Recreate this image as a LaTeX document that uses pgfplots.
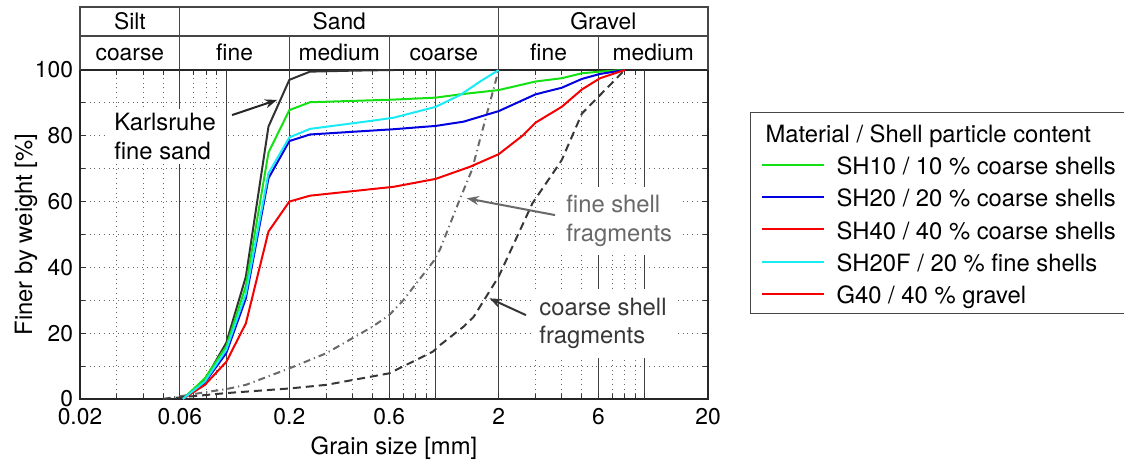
\documentclass[border=0pt]{standalone}
\usepackage{fontspec}
\setmainfont{TeX Gyre Heros}
\usepackage{pgfplots}
\pgfplotsset{compat=1.18}
\usetikzlibrary{arrows.meta}

\definecolor{cGreen}{RGB}{20,225,20}
\definecolor{cBlue}{RGB}{0,0,225}
\definecolor{cRed}{RGB}{245,0,0}
\definecolor{cCyan}{RGB}{25,235,245}
\definecolor{cSand}{RGB}{50,50,50}
\definecolor{cFine}{RGB}{105,105,105}
\definecolor{cCoarse}{RGB}{55,55,55}
\definecolor{cFrame}{RGB}{70,70,70}

\newcommand\tickfont{\fontsize{11.4bp}{13bp}\selectfont}
\newcommand\labfont{\fontsize{11.9bp}{14.15bp}\selectfont}

\begin{document}
\begin{tikzpicture}
\useasboundingbox (-40bp,-31.5bp) rectangle (522bp,199.5bp);
\begin{axis}[
  at={(0,0)}, anchor=south west,
  width=314bp, height=164.5bp, scale only axis,
  xmode=log, xmin=0.02, xmax=20, ymin=0, ymax=100,
  clip=false,
  axis line style={black!85, line width=0.6bp},
  xtick={0.02,0.06,0.2,0.6,2,6,20},
  xticklabels={0.02,0.06,0.2,0.6,2,6,20},
  extra x ticks={0.1,1,10}, extra x tick labels={},
  extra x tick style={grid=major},
  minor xtick={0.03,0.04,0.05,0.07,0.08,0.09,0.3,0.4,0.5,0.7,0.8,0.9,3,4,5,7,8,9},
  ytick={0,20,40,60,80,100}, minor ytick={10,30,50,70,90},
  grid=both,
  major x grid style={black!75, line width=0.5bp},
  minor x grid style={black!60, dotted, line width=0.5bp},
  major y grid style={black!60, dotted, line width=0.5bp},
  minor y grid style={black!60, dotted, line width=0.5bp},
  tick align=inside, major tick length=3bp, minor tick length=2.5bp,
  tick style={black!80, line width=0.5bp},
  /pgf/number format/assume math mode=true,
  tick label style={font=\tickfont},
  xticklabel style={yshift=-1bp},
  label style={font=\labfont},
  xlabel={Grain size [mm]}, ylabel={Finer by weight [\%]},
  xlabel style={at={(axis description cs:0.5,0)}, anchor=base, yshift=-27.5bp},
  ylabel style={at={(axis description cs:-0.0764,0.5)}, anchor=base},
  legend image code/.code={\draw[#1] (0bp,0bp) -- (31bp,0bp);},
  legend cell align=left,
  legend style={
    at={(axis description cs:1.0669,0.8723)}, anchor=north west,
    draw=cFrame, line width=0.6bp, fill=white,
    font=\labfont,
    inner xsep=5bp, inner ysep=4.85bp,
    row sep=6.16bp, column sep=6bp,
    nodes={inner sep=0pt, text height=10bp, text depth=0pt},
  },
]

% legend heading
\addlegendimage{empty legend}
\addlegendentry{\hspace*{-35.5bp}Material / Shell particle content}

% Karlsruhe fine sand
\addplot[cSand, line width=1bp, forget plot] coordinates {
  (0.062,0) (0.079,5.8) (0.1,17.1) (0.124,37.2) (0.159,82.8)
  (0.2,97) (0.251,99.5) (0.4,99.8) (0.63,100)};

% fine shell fragments
\addplot[cFine, line width=1bp, dash pattern=on 3.5bp off 2bp on 0.6bp off 2bp, forget plot] coordinates {
  (0.05,0) (0.08,2.1) (0.1,3) (0.124,4.3) (0.2,9.3) (0.3,13.9) (0.5,22)
  (0.6,25.5) (0.7,30) (0.98,42) (1.05,45.5) (1.31,61) (1.49,69.6)
  (1.63,79) (2,100)};

% coarse shell fragments
\addplot[cCoarse, line width=1bp, dash pattern=on 4bp off 2.5bp, forget plot] coordinates {
  (0.05,0) (0.1,1.8) (0.2,3.2) (0.3,4.3) (0.6,7.8) (0.97,14.4) (1.05,16.4)
  (1.36,22) (1.52,25) (2.0,37.2) (2.9,59.5) (3.72,69.6) (4.0,72.6)
  (5.0,86.8) (8.0,100)};

% SH10
\addplot[cGreen, line width=1bp] coordinates {
  (0.062,0) (0.079,6.3) (0.1,16) (0.124,34.4) (0.159,74.9) (0.2,87.8)
  (0.251,90.2) (0.63,91) (1.0,91.6) (1.31,92.6) (2.0,93.9) (3.0,96.5)
  (4.0,97.5) (5.0,99) (6.1,99.5) (8.0,100)};
\addlegendentry{SH10 / 10 \% coarse shells}

% SH20
\addplot[cBlue, line width=1bp] coordinates {
  (0.062,0) (0.079,5) (0.1,14) (0.124,30.6) (0.159,67.1) (0.2,78.4)
  (0.251,80.4) (0.63,82) (1.0,83) (1.36,84.3) (2.0,87.5) (3.0,92.6)
  (4.0,94.6) (5.0,97.3) (6.1,98.8) (8.0,100)};
\addlegendentry{SH20 / 20 \% coarse shells}

% SH40
\addplot[cRed, line width=1bp] coordinates {
  (0.062,0) (0.079,4.3) (0.1,11.3) (0.124,23) (0.159,50.9) (0.2,60)
  (0.251,61.8) (0.63,64.5) (1.0,66.9) (1.46,70.6) (2.0,74.4) (2.62,80.2)
  (3.0,84) (4.0,88.8) (5.0,94.1) (6.1,97.5) (8.0,100)};
\addlegendentry{SH40 / 40 \% coarse shells}

% SH20F
\addplot[cCyan, line width=1bp] coordinates {
  (0.062,0) (0.079,5.3) (0.1,15) (0.124,32) (0.159,68.6) (0.2,79.5)
  (0.251,82.1) (0.5,84.6) (0.63,85.5) (1.0,88.8) (1.31,92.4) (1.63,96.5)
  (2.0,100)};
\addlegendentry{SH20F / 20 \% fine shells}

\addlegendimage{cRed, line width=1bp}
\addlegendentry{G40 / 40 \% gravel}

% grain size classification header
\draw[cFrame, line width=0.6bp] (axis cs:0.02,100) -- (axis cs:0.02,119.15)
  -- (axis cs:20,119.15) -- (axis cs:20,100);
\draw[cFrame, line width=0.6bp] (axis cs:0.02,110.33) -- (axis cs:20,110.33);
\draw[cFrame, line width=0.6bp] (axis cs:0.06,100) -- (axis cs:0.06,119.15);
\draw[cFrame, line width=0.6bp] (axis cs:2,100) -- (axis cs:2,119.15);
\draw[cFrame, line width=0.6bp] (axis cs:0.2,100) -- (axis cs:0.2,110.33);
\draw[cFrame, line width=0.6bp] (axis cs:0.6,100) -- (axis cs:0.6,110.33);
\draw[cFrame, line width=0.6bp] (axis cs:6,100) -- (axis cs:6,110.33);

\node[anchor=base, font=\tickfont] at (axis cs:0.03464,112.16) {Silt};
\node[anchor=base, font=\tickfont] at (axis cs:0.3464,112.16) {Sand};
\node[anchor=base, font=\tickfont] at (axis cs:6.325,112.16) {Gravel};
\node[anchor=base, font=\tickfont] at (axis cs:0.03464,102.74) {coarse};
\node[anchor=base, font=\tickfont] at (axis cs:0.1095,102.74) {fine};
\node[anchor=base, font=\tickfont] at (axis cs:0.3464,102.74) {medium};
\node[anchor=base, font=\tickfont] at (axis cs:1.095,102.74) {coarse};
\node[anchor=base, font=\tickfont] at (axis cs:3.464,102.74) {fine};
\node[anchor=base, font=\tickfont] at (axis cs:10.95,102.74) {medium};

% annotations
\node[fill=white, anchor=north west, align=left, inner xsep=4.5bp, inner ysep=2.4bp,
  font=\labfont] at (axis cs:0.0263,88.4) {Karlsruhe\\fine sand};
\draw[-{Stealth[length=6bp,width=4.5bp]}, line width=1bp, black!85]
  (axis cs:0.1065,86.3) -- (axis cs:0.1747,90.9);

\node[fill=white, anchor=north west, align=left, inner xsep=4bp, inner ysep=4.5bp,
  font=\labfont, text=cFine] at (axis cs:3.84,64.7) {fine shell\\fragments};
\draw[-{Stealth[length=6bp,width=4.5bp]}, line width=1bp, cFine]
  (axis cs:3.72,55.9) -- (axis cs:1.408,61.0);

\node[fill=white, anchor=north west, align=left, inner xsep=4bp, inner ysep=4.5bp,
  font=\labfont, text=cCoarse] at (axis cs:2.856,33.56) {coarse shell\\fragments};
\draw[-{Stealth[length=6bp,width=4.5bp]}, line width=1bp, cCoarse]
  (axis cs:2.70,25.5) -- (axis cs:1.806,30.6);
\end{axis}
\end{tikzpicture}
\end{document}
